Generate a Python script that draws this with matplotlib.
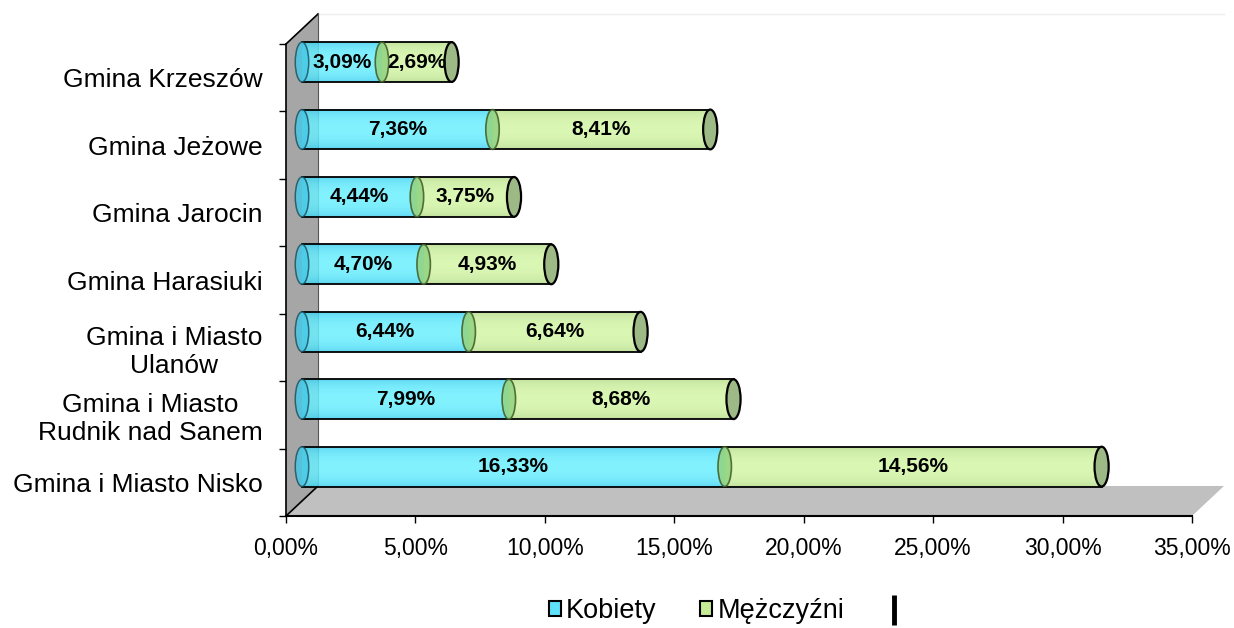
import numpy as np
import matplotlib
matplotlib.use('Agg')
import matplotlib.pyplot as plt
from matplotlib.patches import Polygon, Ellipse, Patch
from matplotlib.colors import to_rgb
from matplotlib.lines import Line2D

plt.rcParams['font.family'] = ['Liberation Sans', 'DejaVu Sans']

### DATA ######################################################################
gminy = ['Gmina i Miasto Nisko',
         'Gmina i Miasto\nRudnik nad Sanem',
         'Gmina i Miasto\nUlanów',
         'Gmina Harasiuki',
         'Gmina Jarocin',
         'Gmina Jeżowe',
         'Gmina Krzeszów']
kobiety   = [16.33, 7.99, 6.44, 4.70, 4.44, 7.36, 3.09]
mezczyzni = [14.56, 8.68, 6.64, 4.93, 3.75, 8.41, 2.69]
series_names = ['Kobiety', 'Mężczyźni']
xticks = [0, 5, 10, 15, 20, 25, 30, 35]
xticklabels = ['0,00%', '5,00%', '10,00%', '15,00%', '20,00%', '25,00%', '30,00%', '35,00%']

### STYLE #####################################################################
c_edge   = ['#3ccbed', '#b2d98a']   # darker band at top/bottom of cylinder
c_center = ['#6cf0ff', '#d3f6a6']   # highlight in the middle
c_legend = ['#5fe3fd', '#c6ec98']
c_cap    = ['#45c8e8', '#9db985']
c_joint  = '#92d27f'
wall_c   = '#a6a6a6'
floor_c  = '#c0c0c0'
depth_x = 1.236     # 3D depth in data units (x = %)
depth_y = 0.445     # 3D depth in category units
bar_h   = 0.59
ell_w   = 0.52
off_x   = depth_x/2
off_y   = depth_y/2 + 0.01


def gradient(s):
    t = np.linspace(0, 1, 64)
    w = 1 - (2*t - 1)**2          # 0 at edges, 1 in the middle
    w = w**0.6
    e = np.array(to_rgb(c_edge[s])); c = np.array(to_rgb(c_center[s]))
    return (e[None, :]*(1 - w[:, None]) + c[None, :]*w[:, None])[:, None, :]


fig = plt.figure(figsize=(12.34, 6.28), dpi=100)
ax = fig.add_axes([286/1234, 112/628, 906/1234, 472/628])

# wall & floor
wall = Polygon([(0, -0.5), (0, 6.5), (depth_x, 6.5+depth_y), (depth_x, -0.5+depth_y)],
               closed=True, facecolor=wall_c, edgecolor='none', clip_on=False, zorder=1)
floor = Polygon([(0, -0.5), (35, -0.5), (35+depth_x, -0.5+depth_y), (depth_x, -0.5+depth_y)],
                closed=True, facecolor=floor_c, edgecolor='none', clip_on=False, zorder=1)
ax.add_patch(wall)
ax.add_patch(floor)
ax.plot([0, depth_x], [6.5, 6.5+depth_y], color='black', lw=1.2, clip_on=False, zorder=2)
ax.plot([0, depth_x], [-0.5, -0.5+depth_y], color='black', lw=1.2, clip_on=False, zorder=2)
ax.plot([depth_x, depth_x], [-0.5+depth_y, 6.5+depth_y], color='#555555', lw=0.8, clip_on=False, zorder=2)
ax.plot([depth_x, 35+depth_x], [6.5+depth_y, 6.5+depth_y], color='#eeeeee', lw=1, clip_on=False, zorder=1)

# cylinders
for i in range(len(gminy)):
    yc = i + off_y
    segs = [(0, kobiety[i]), (kobiety[i], kobiety[i]+mezczyzni[i])]
    z = 3 + i*0.01
    for s, (x0, x1) in enumerate(segs):
        im = ax.imshow(gradient(s), extent=(x0+off_x, x1+off_x, yc-bar_h/2, yc+bar_h/2),
                       aspect='auto', origin='upper', alpha=0.85, zorder=z, interpolation='bilinear')
        im.set_clip_on(False)
        ax.plot([x0+off_x, x1+off_x], [yc+bar_h/2, yc+bar_h/2], color='black', lw=1.3, zorder=z+0.002, clip_on=False)
        ax.plot([x0+off_x, x1+off_x], [yc-bar_h/2, yc-bar_h/2], color='black', lw=1.3, zorder=z+0.002, clip_on=False)
        if s == 0:
            ax.add_patch(Ellipse((x0+off_x, yc), ell_w, bar_h, facecolor=c_cap[0], edgecolor='#1a4b58',
                                 lw=1.1, alpha=0.8, zorder=z+0.003, clip_on=False))
        else:
            ax.add_patch(Ellipse((x0+off_x, yc), ell_w, bar_h, facecolor=c_joint, edgecolor='#3e5a26',
                                 lw=1.2, alpha=0.85, zorder=z+0.003, clip_on=False))
        ax.text((x0+x1)/2+off_x, yc, ('%.2f%%' % (x1-x0)).replace('.', ','), ha='center', va='center',
                fontsize=15, fontweight='bold', color='black', zorder=z+0.005)
    xe = kobiety[i]+mezczyzni[i]+off_x
    ax.add_patch(Ellipse((xe, yc), ell_w*1.05, bar_h, facecolor=c_cap[1], edgecolor='black',
                         lw=1.6, zorder=z+0.004, clip_on=False))

ax.set_xlim(0, 35)
ax.set_ylim(-0.5, 6.5)

# axes
for sp in ['top', 'right']:
    ax.spines[sp].set_visible(False)
ax.spines['left'].set_linewidth(1.2)
ax.spines['bottom'].set_linewidth(1.5)
ax.spines['left'].set_zorder(2)
ax.spines['bottom'].set_zorder(2)
ax.set_xticks(xticks)
ax.set_xticklabels(xticklabels, fontsize=16.5)
ax.tick_params(axis='x', length=5, width=1, pad=10)
ax.set_yticks(range(len(gminy)))
ax.set_yticklabels(gminy, fontsize=19, multialignment='center')
ax.set_yticks(np.arange(-0.5, 7, 1), minor=True)
ax.tick_params(axis='y', which='major', length=0, pad=17)
ax.tick_params(axis='y', which='minor', length=5, width=1)
ax.set_facecolor('none')

handles = [Patch(facecolor=c_legend[0], edgecolor='black', lw=1.5),
           Patch(facecolor=c_legend[1], edgecolor='black', lw=1.5),
           Line2D([], [], color='black', marker='|', linestyle='none', markersize=21, markeredgewidth=3.5)]
fig.legend(handles, series_names + [''], loc='center', bbox_to_anchor=(727/1234, 17/628), ncol=3,
           frameon=False, fontsize=19.5, handlelength=0.45, handleheight=0.45, handletextpad=0.2,
           columnspacing=1.6)

fig.savefig('out.png', dpi=100)
